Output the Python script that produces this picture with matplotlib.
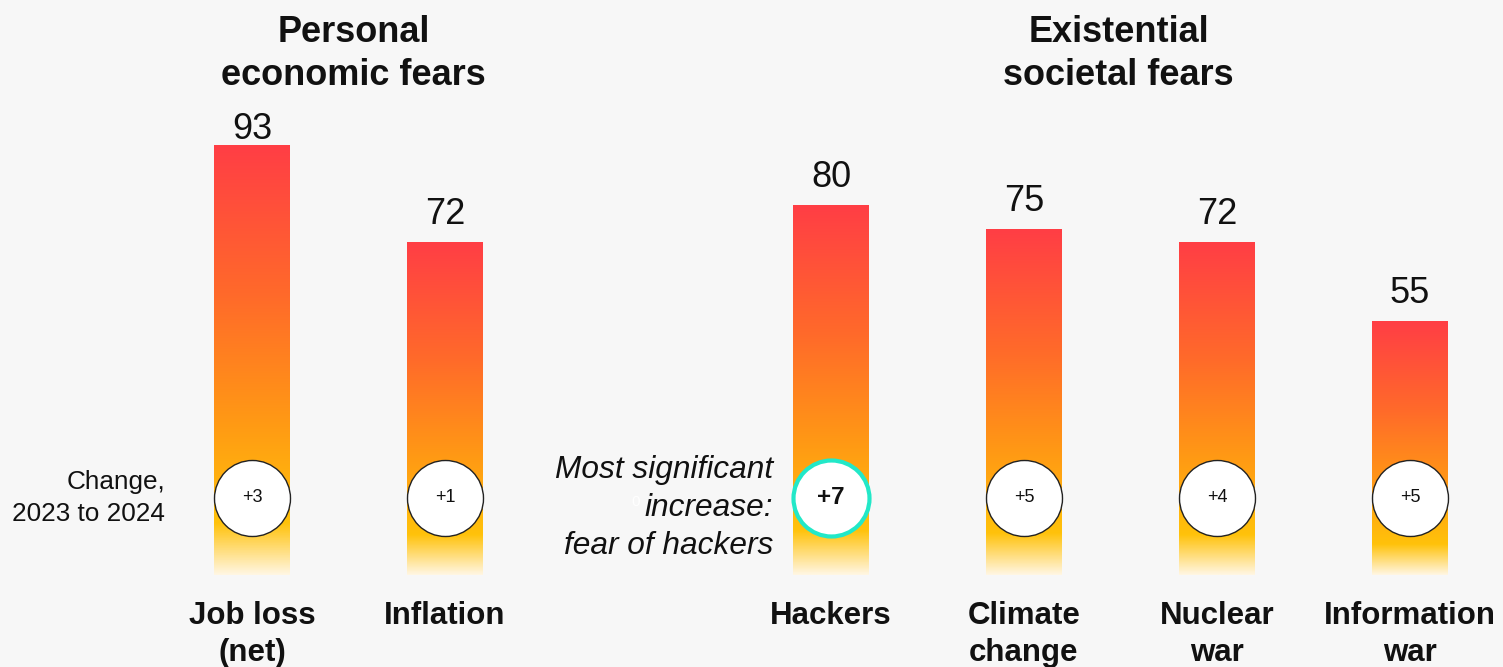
import matplotlib.pyplot as plt
import numpy as np
from matplotlib.colors import LinearSegmentedColormap
from matplotlib.transforms import blended_transform_factory

plt.rcParams["font.family"] = ["Liberation Sans", "DejaVu Sans"]

# data
categories = ["Job loss\n(net)", "Inflation", "Hackers", "Climate\nchange",
              "Nuclear\nwar", "Information\nwar"]
positions = [0, 1, 3, 4, 5, 6]
values = [93, 72, 80, 75, 72, 55]
changes = ["+3", "+1", "+7", "+5", "+4", "+5"]
highlight = "Hackers"
groups = ["Personal\neconomic fears", "Existential\nsocietal fears"]
group_members = [[0, 1], [2, 3, 4, 5]]

bg = "#f7f7f7"
cmap = LinearSegmentedColormap.from_list(
    "fear",
    [(0.0, "#fff6e2"), (0.12, "#ffc20a"), (0.35, "#ff9a14"),
     (0.65, "#ff6a2a"), (1.0, "#ff3e45")],
)

fig = plt.figure(figsize=(15.03, 6.67), dpi=100, facecolor=bg)
ax = fig.add_axes([0, 0, 1, 1])
ax.set_facecolor(bg)

px_per_unit = 429 / 93
px_per_pos = 193
bar_w = 76 / px_per_pos
grad = np.linspace(0, 1, 256).reshape(-1, 1)

# gradient bars, value labels kept below the titles
label_cap = 449 / px_per_unit
for x, v in zip(positions, values):
    ax.imshow(grad, extent=[x - bar_w / 2, x + bar_w / 2, 0, v],
              origin="lower", aspect="auto", cmap=cmap, zorder=1)
    ly = min(v + 32 / px_per_unit, label_cap)
    ax.text(x, ly, str(v), ha="center", va="center_baseline", fontsize=26,
            color="#111111")

# change circles
circle_y = 77 / px_per_unit
for x, cat, ch in zip(positions, categories, changes):
    hi = cat == highlight
    ax.scatter([x], [circle_y], s=(76 * 0.72) ** 2, color="white",
               edgecolor="#22e8c8" if hi else "#222222",
               linewidth=3 if hi else 1, zorder=3)
    ax.text(x, circle_y, ch, ha="center", va="center", zorder=4,
            fontsize=17.5 if hi else 13, fontweight="bold" if hi else "normal",
            color="#111111")

trans = blended_transform_factory(ax.transData, ax.transAxes)

# category labels
for x, cat in zip(positions, categories):
    ax.text(x, 1 - 601 / 667, cat, transform=trans, ha="center", va="top",
            fontsize=22.5, fontweight="bold", linespacing=1.32, color="#111111")

# group titles
title_nudge = [5 / px_per_pos, -2 / px_per_pos]
for title, members, dx in zip(groups, group_members, title_nudge):
    cx = np.mean([positions[i] for i in members]) + dx
    ax.text(cx, 1 - 54 / 667, title, transform=trans, ha="center",
            va="center", fontsize=26, fontweight="bold", linespacing=1.3,
            color="#111111")

# side notes
ax.text(positions[0] - (252 - 165) / px_per_pos, circle_y, "Change,\n2023 to 2024",
        ha="right", va="center", fontsize=18.8, linespacing=1.42, color="#111111")
ax.text(positions[2] - (831 - 773) / px_per_pos, circle_y - 10 / px_per_unit,
        "Most significant\nincrease:\nfear of hackers", ha="right", va="center",
        fontsize=22.8, style="italic", linespacing=1.33, color="#111111")
ax.text(positions[2] - (831 - 636) / px_per_pos, circle_y - 4 / px_per_unit, "0",
        ha="center", va="center", fontsize=11, color="white")

ax.set_xlim(-252 / px_per_pos, (1503 - 252) / px_per_pos)
ax.set_ylim(-92 / px_per_unit, 575 / px_per_unit)
ax.axis("off")

fig.savefig("out.png", dpi=100, facecolor=bg)
